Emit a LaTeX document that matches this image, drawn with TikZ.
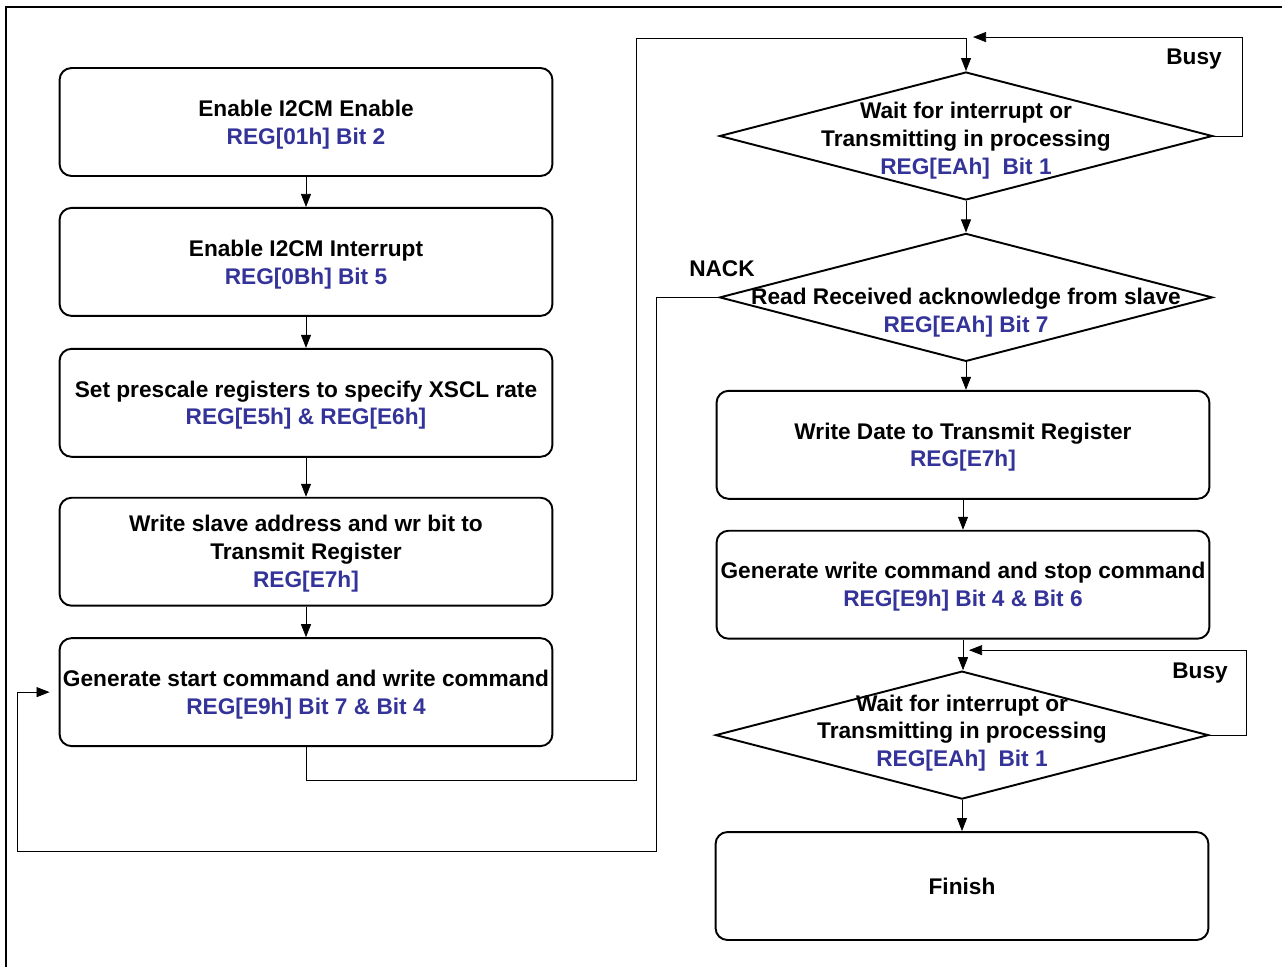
\documentclass[tikz,border=0pt]{standalone}
\usepackage{fontspec}
\setmainfont{Liberation Sans}
\usetikzlibrary{arrows.meta, positioning, calc, shapes.geometric}
\definecolor{regblue}{RGB}{51,51,153}
\newcommand{\reg}[1]{\textcolor{regblue}{#1}}
\tikzset{
  stepbox/.style = {draw, rectangle, rounded corners=0.24cm, line width=1.1pt,
                    minimum width=9.86cm, minimum height=2.16cm,
                    inner xsep=0pt, text depth=0pt, align=center},
  decide/.style  = {draw, diamond, line width=1.1pt,
                    minimum width=9.86cm, minimum height=2.56cm,
                    inner sep=0pt},
  dtext/.style   = {align=center, inner sep=0pt},
  tag/.style     = {inner sep=0pt},
  >={Triangle[length=0.26cm, width=0.2cm]}, line width=1.1pt
}

\begin{document}
\begin{tikzpicture}[x=0.02cm, y=-0.02cm,
                    font=\fontsize{12.9}{15.9}\selectfont\bfseries]
  \useasboundingbox (0,0) rectangle (1282,967);

  %%──────────────────────────────────────────────────────────────────────────
  %%  FRAME (top and left edges)
  %%──────────────────────────────────────────────────────────────────────────
  \draw[line width=1.2pt] (6,967) -- (6,7) -- (1282,7);

  %%──────────────────────────────────────────────────────────────────────────
  %%  LEFT COLUMN : SET-UP STEPS
  %%──────────────────────────────────────────────────────────────────────────
  \node[stepbox]                      (En)    at (306,122)
        {Enable I2CM Enable\\\reg{REG[01h] Bit 2}};
  \node[stepbox, below=0.60cm of En]  (Int)
        {Enable I2CM Interrupt\\\reg{REG[0Bh] Bit 5}};
  \node[stepbox, below=0.62cm of Int] (Pre)
        {Set prescale registers to specify XSCL rate\\\reg{REG[E5h] \& REG[E6h]}};
  \node[stepbox, below=0.78cm of Pre] (Addr)
        {Write slave address and wr bit to\\Transmit Register\\\reg{REG[E7h]}};
  \node[stepbox, below=0.61cm of Addr] (Start)
        {Generate start command and write command\\\reg{REG[E9h] Bit 7 \& Bit 4}};

  %%──────────────────────────────────────────────────────────────────────────
  %%  RIGHT COLUMN : TRANSFER AND CHECKS
  %%──────────────────────────────────────────────────────────────────────────
  \node[decide]                        (WaitA) at (966,136) {};
  \node[decide, below=0.63cm of WaitA] (Ack)   {};
  \node[stepbox, below=0.55cm of Ack, xshift=-0.06cm] (Data)
        {Write Date to Transmit Register\\\reg{REG[E7h]}};
  \node[stepbox, below=0.60cm of Data] (Stop)
        {Generate write command and stop command\\\reg{REG[E9h] Bit 4 \& Bit 6}};
  \node[decide, below=0.61cm of Stop, xshift=-0.02cm] (WaitB) {};
  \node[stepbox, below=0.62cm of WaitB] (Fin) {Finish};

  %% texts of the decisions (kept apart so the diamonds keep their size)
  \node[dtext, yshift=-0.1cm]  (WaitAtxt) at (WaitA)
        {Wait for interrupt or\\Transmitting in processing\\\reg{REG[EAh]~ Bit 1}};
  \node[dtext, yshift=-0.31cm] (Acktxt) at (Ack)
        {Read Received acknowledge from slave\\\reg{REG[EAh] Bit 7}};
  \node[dtext, yshift=0.04cm]  (WaitBtxt) at (WaitB)
        {Wait for interrupt or\\Transmitting in processing\\\reg{REG[EAh]~ Bit 1}};

  %%──────────────────────────────────────────────────────────────────────────
  %%  FORWARD WIRES
  %%──────────────────────────────────────────────────────────────────────────
  \draw[->] (En.south)   -- (Int.north);
  \draw[->] (Int.south)  -- (Pre.north);
  \draw[->] (Pre.south)  -- (Addr.north);
  \draw[->] (Addr.south) -- (Start.north);

  \coordinate (rise) at (636,38);
  \draw[->] (Start.south) -- ++(0,-0.66cm) -| (rise) -| (WaitA.north);

  \draw[->] (WaitA.south) -- (Ack.north);
  \draw[->] (Ack.south)   -- (Ack.south |- Data.north);
  \draw[->] (Data.south)  -- (Stop.north);
  \draw[->] (Stop.south)  -- (Stop.south |- WaitB.north);
  \draw[->] (WaitB.south) -- (Fin.north);

  %%──────────────────────────────────────────────────────────────────────────
  %%  BUSY LOOPS
  %%──────────────────────────────────────────────────────────────────────────
  \coordinate (busyA) at ($(WaitA.north)+(0.14cm,0.68cm)$);
  \draw[->] (WaitA.east) -- ++(0.58cm,0) |- (busyA);
  \node[tag] (busyAlbl) at (1194,59) {Busy};

  \coordinate (busyB) at ($(WaitB.north)+(0.14cm,0.40cm)$);
  \draw[->] (WaitB.east) -- ++(0.74cm,0) |- (busyB);
  \node[tag] (busyBlbl) at (1200,673) {Busy};

  %%──────────────────────────────────────────────────────────────────────────
  %%  NACK RETURN
  %%──────────────────────────────────────────────────────────────────────────
  \coordinate (nackturn) at (17,851);
  \draw[->, shorten >=0.18cm] (Ack.west) -- ++(-1.24cm,0) |- (nackturn) |- (Start.west);
  \node[tag] (nacklbl) at (722,269) {NACK};

\end{tikzpicture}
\end{document}
